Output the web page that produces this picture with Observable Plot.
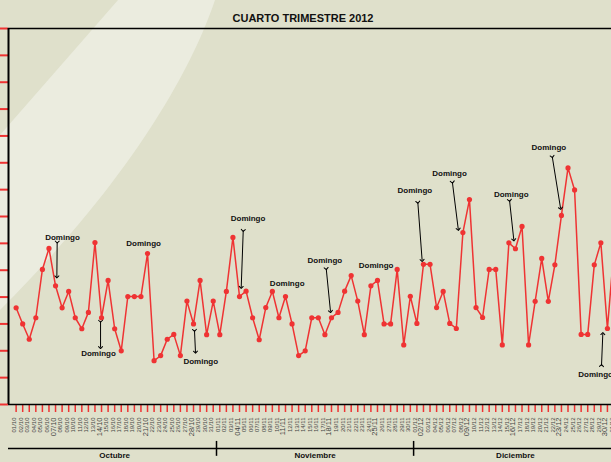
<!DOCTYPE html>
<html>
<head>
<meta charset="utf-8">
<script src="https://cdn.jsdelivr.net/npm/d3@7"></script>
<script src="https://cdn.jsdelivr.net/npm/@observablehq/plot@0.6"></script>
<style>
  html, body { margin: 0; padding: 0; background: #dfe0cb; overflow: hidden; }
  #wrap { position: relative; width: 611px; height: 462px; }
  #bg { position: absolute; left: 0; top: 0; }
  #chart { position: absolute; left: 0; top: 0; }
</style>
</head>
<body>
<div id="wrap">
  <svg id="bg" width="611" height="462"><path d="M118,0 L215,0 C195,60 140,170 0,310 L0,135 Q70,55 118,0 Z" fill="#ebecdf"/></svg>
  <div id="chart"></div>
</div>
<script>
// ---- data ----
const title = "CUARTO TRIMESTRE 2012";
const months = ["Octubre", "Noviembre", "Diciembre"];
const values = [
  // Octubre
  3.60, 3.00, 2.43, 3.23, 5.03, 5.81, 4.42, 3.60, 4.21, 3.23, 2.82, 3.43, 6.03, 3.23, 4.62, 2.82,
  2.00, 4.02, 4.02, 4.02, 5.62, 1.63, 1.82, 2.43, 2.61, 1.82, 3.85, 3.00, 4.62, 2.60, 3.85,
  // Noviembre
  2.60, 4.21, 6.22, 4.02, 4.22, 3.23, 2.41, 3.61, 4.21, 3.23, 4.02, 3.00, 1.82, 2.00, 3.23,
  3.23, 2.60, 3.23, 3.43, 4.22, 4.80, 3.85, 2.60, 4.42, 4.62, 3.00, 3.00, 5.03, 2.22, 4.03,
  // Diciembre
  3.02, 5.22, 5.22, 3.61, 4.21, 3.02, 2.83, 6.40, 7.63, 3.61, 3.24, 5.03, 5.03, 2.22, 6.02, 5.80,
  6.63, 2.22, 3.84, 5.44, 3.84, 5.20, 7.04, 8.81, 7.99, 2.61, 2.61, 5.20, 6.02, 2.83, 5.80
];
const dates = d3.timeDay.range(new Date(2012, 9, 1), new Date(2013, 0, 1));
const dayLabels = dates.map(d3.timeFormat("%d/%m"));
const yTicks = d3.range(0, 15);
// annotations: label position and arrow (in data units: day index, value)
const notes = [
  {tx: 7.06, ty: 6.22, x1: 6.25, y1: 6.05, x2: 6.2, y2: 4.75},
  {tx: 12.54, ty: 1.90, x1: 12.85, y1: 3.10, x2: 12.85, y2: 2.12},
  {tx: 19.4, ty: 5.99},
  {tx: 28.1, ty: 1.60, x1: 27.15, y1: 2.76, x2: 27.3, y2: 1.95},
  {tx: 35.3, ty: 6.93, x1: 34.57, y1: 6.48, x2: 34.26, y2: 4.36},
  {tx: 41.26, ty: 4.51},
  {tx: 47.0, ty: 5.35, x1: 47.2, y1: 5.06, x2: 47.85, y2: 3.46},
  {tx: 54.8, ty: 5.16},
  {tx: 60.7, ty: 7.96, x1: 61.14, y1: 7.53, x2: 61.8, y2: 5.36},
  {tx: 65.97, ty: 8.60, x1: 66.4, y1: 8.28, x2: 67.3, y2: 6.52},
  {tx: 75.36, ty: 7.82, x1: 75.1, y1: 7.60, x2: 75.75, y2: 6.13},
  {tx: 81.08, ty: 9.58, x1: 81.6, y1: 9.23, x2: 82.87, y2: 7.30},
  {tx: 88.2, ty: 1.11, x1: 89.1, y1: 1.45, x2: 89.3, y2: 2.64}
];

// ---- derived tables ----
const RED = "#ef3333";
const data = values.map((v, i) => ({i, v, label: dayLabels[i], sunday: dates[i].getDay() === 0, month: dates[i].getMonth()}));
const monthInfo = months.map((m, k) => {
  const idx = data.filter(d => d.month === (9 + k)).map(d => d.i);
  return {name: m, mid: (d3.min(idx) + d3.max(idx)) / 2, end: d3.max(idx) + 0.5};
});
const arrows = notes.filter(n => n.x1 !== undefined);

const chart = Plot.plot({
  width: 611,
  height: 462,
  marginTop: 28,
  marginBottom: 58,
  marginLeft: 8,
  marginRight: 0,
  style: {background: "transparent", overflow: "visible", fontFamily: "'Liberation Sans', Arial, sans-serif"},
  x: {domain: [-1.16, 90.62]},
  y: {domain: [0, 14]},
  marks: [
    // axes ticks (red)
    Plot.axisY({ticks: yTicks, tickSize: 8, stroke: RED, strokeWidth: 2, tickFormat: () => ""}),
    Plot.axisX({ticks: data.map(d => d.i), tickSize: 8, stroke: RED, strokeWidth: 1.5, tickFormat: () => ""}),
    // frame lines
    Plot.ruleY([0, 14], {stroke: "black", strokeWidth: 1.5}),
    Plot.ruleX([-1.16], {stroke: "black", strokeWidth: 2}),
    // day labels
    Plot.text(data.filter(d => !d.sunday), {x: "i", text: "label", frameAnchor: "bottom", dy: 13, rotate: -90, textAnchor: "end", fontSize: 6, fill: "#444"}),
    Plot.text(data.filter(d => d.sunday), {x: "i", text: "label", frameAnchor: "bottom", dy: 13, rotate: -90, textAnchor: "end", fontSize: 7.5, fill: "#444"}),
    // month separator and labels
    Plot.ruleY([0], {dy: 44, stroke: "black", strokeWidth: 1.5}),
    Plot.ruleX(monthInfo.slice(0, 2).map(m => m.end), {y1: -1.375, y2: -1.93, stroke: "black", strokeWidth: 1.5}),
    Plot.text(monthInfo, {x: "mid", text: "name", frameAnchor: "bottom", dy: 53, fontSize: 8, fontWeight: "bold", fill: "#111"}),
    // series
    Plot.line(data, {x: "i", y: "v", stroke: RED, strokeWidth: 1.5}),
    Plot.dot(data, {x: "i", y: "v", r: 2.6, fill: RED}),
    // annotations
    Plot.link(arrows, {x1: "x1", y1: "y1", x2: "x2", y2: "y2", stroke: "black", strokeWidth: 1, markerStart: "arrow", markerEnd: "arrow"}),
    Plot.text(notes, {x: "tx", y: "ty", text: () => "Domingo", fontSize: 8, fontWeight: "bold", fill: "#111"}),
    // title
    Plot.text([title], {frameAnchor: "top", dy: -14, dx: -7, fontSize: 11, fontWeight: "bold", fill: "#111", letterSpacing: "-0.3px"})
  ]
});
document.getElementById("chart").appendChild(chart);
</script>
</body>
</html>
